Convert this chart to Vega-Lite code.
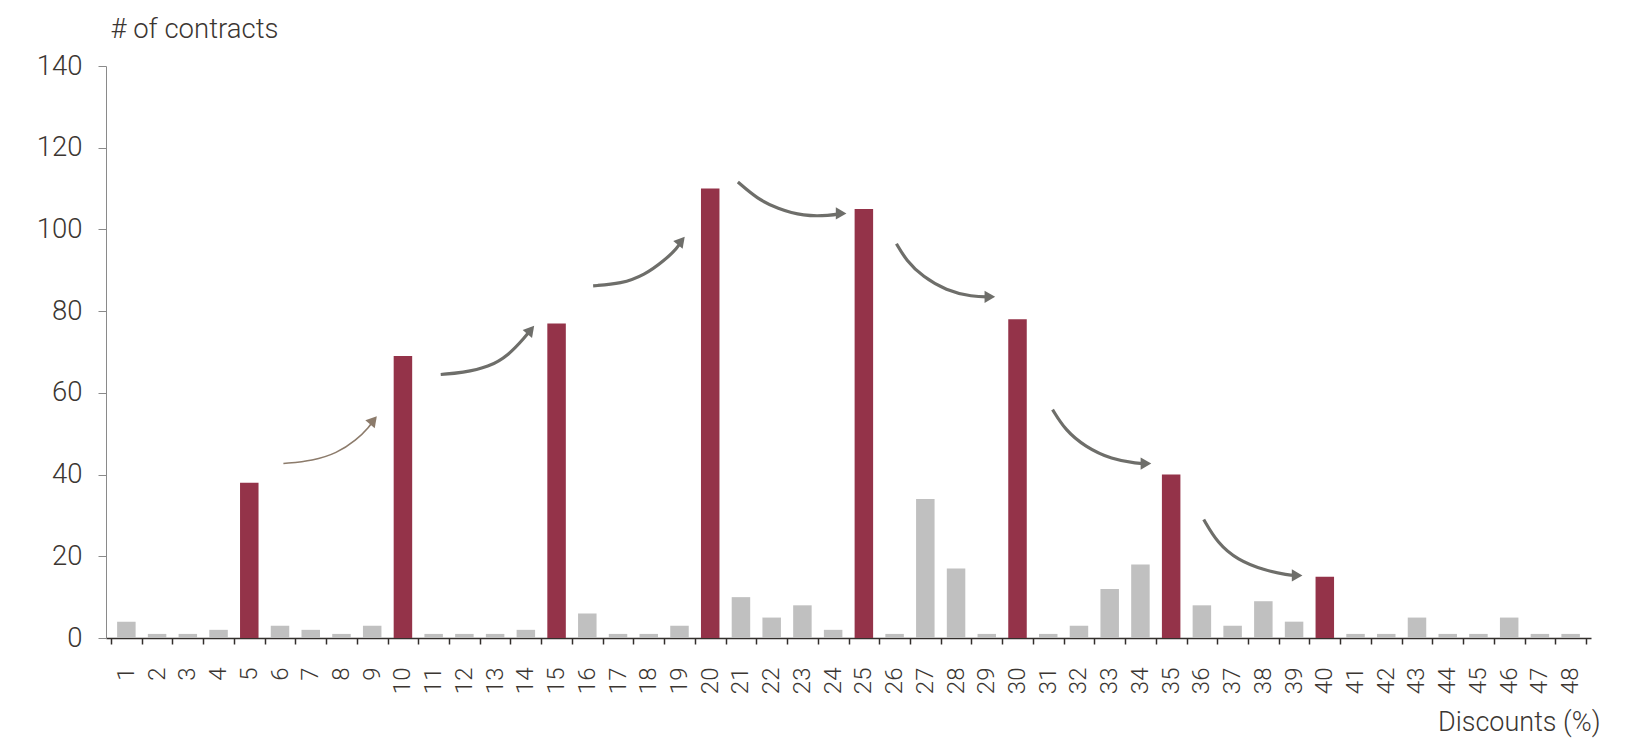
{
  "$schema": "https://vega.github.io/schema/vega-lite/v6.json",
  "autosize": "none",
  "padding": {"left": 106, "top": 66, "right": 56, "bottom": 116},
  "width": 1485,
  "height": 572,
  "background": "white",
  "config": {"font": "Roboto", "view": {"stroke": null}},
  "datasets": {
    "contracts": [
      {"discount": 1, "contracts": 4}, {"discount": 2, "contracts": 1}, {"discount": 3, "contracts": 1},
      {"discount": 4, "contracts": 2}, {"discount": 5, "contracts": 38}, {"discount": 6, "contracts": 3},
      {"discount": 7, "contracts": 2}, {"discount": 8, "contracts": 1}, {"discount": 9, "contracts": 3},
      {"discount": 10, "contracts": 69}, {"discount": 11, "contracts": 1}, {"discount": 12, "contracts": 1},
      {"discount": 13, "contracts": 1}, {"discount": 14, "contracts": 2}, {"discount": 15, "contracts": 77},
      {"discount": 16, "contracts": 6}, {"discount": 17, "contracts": 1}, {"discount": 18, "contracts": 1},
      {"discount": 19, "contracts": 3}, {"discount": 20, "contracts": 110}, {"discount": 21, "contracts": 10},
      {"discount": 22, "contracts": 5}, {"discount": 23, "contracts": 8}, {"discount": 24, "contracts": 2},
      {"discount": 25, "contracts": 105}, {"discount": 26, "contracts": 1}, {"discount": 27, "contracts": 34},
      {"discount": 28, "contracts": 17}, {"discount": 29, "contracts": 1}, {"discount": 30, "contracts": 78},
      {"discount": 31, "contracts": 1}, {"discount": 32, "contracts": 3}, {"discount": 33, "contracts": 12},
      {"discount": 34, "contracts": 18}, {"discount": 35, "contracts": 40}, {"discount": 36, "contracts": 8},
      {"discount": 37, "contracts": 3}, {"discount": 38, "contracts": 9}, {"discount": 39, "contracts": 4},
      {"discount": 40, "contracts": 15}, {"discount": 41, "contracts": 1}, {"discount": 42, "contracts": 1},
      {"discount": 43, "contracts": 5}, {"discount": 44, "contracts": 1}, {"discount": 45, "contracts": 1},
      {"discount": 46, "contracts": 5}, {"discount": 47, "contracts": 1}, {"discount": 48, "contracts": 1}
    ],
    "arrows": [
      {"arrow": 1, "step": 1, "discount": 6.11, "contracts": 42.7},
      {"arrow": 1, "step": 2, "discount": 7.08, "contracts": 43.4},
      {"arrow": 1, "step": 3, "discount": 7.84, "contracts": 45.2},
      {"arrow": 1, "step": 4, "discount": 8.48, "contracts": 48.4},
      {"arrow": 1, "step": 5, "discount": 8.92, "contracts": 51.8},
      {"arrow": 1, "step": 6, "discount": 9.04, "contracts": 53.3},
      {"arrow": 2, "step": 1, "discount": 11.23, "contracts": 64.5},
      {"arrow": 2, "step": 2, "discount": 11.93, "contracts": 64.9},
      {"arrow": 2, "step": 3, "discount": 12.8, "contracts": 66.3},
      {"arrow": 2, "step": 4, "discount": 13.44, "contracts": 69.2},
      {"arrow": 2, "step": 5, "discount": 13.98, "contracts": 73.7},
      {"arrow": 2, "step": 6, "discount": 14.16, "contracts": 75.4},
      {"arrow": 3, "step": 1, "discount": 16.19, "contracts": 86.2},
      {"arrow": 3, "step": 2, "discount": 17.11, "contracts": 86.7},
      {"arrow": 3, "step": 3, "discount": 17.86, "contracts": 88.8},
      {"arrow": 3, "step": 4, "discount": 18.51, "contracts": 92.4},
      {"arrow": 3, "step": 5, "discount": 18.94, "contracts": 95.5},
      {"arrow": 3, "step": 6, "discount": 19.06, "contracts": 97.2},
      {"arrow": 4, "step": 1, "discount": 20.9, "contracts": 111.6},
      {"arrow": 4, "step": 2, "discount": 21.53, "contracts": 107.5},
      {"arrow": 4, "step": 3, "discount": 22.18, "contracts": 105.1},
      {"arrow": 4, "step": 4, "discount": 23.04, "contracts": 103.2},
      {"arrow": 4, "step": 5, "discount": 23.9, "contracts": 103.4},
      {"arrow": 4, "step": 6, "discount": 24.26, "contracts": 103.9},
      {"arrow": 5, "step": 1, "discount": 26.06, "contracts": 96.5},
      {"arrow": 5, "step": 2, "discount": 26.38, "contracts": 92.4},
      {"arrow": 5, "step": 3, "discount": 26.92, "contracts": 88.4},
      {"arrow": 5, "step": 4, "discount": 27.67, "contracts": 85.1},
      {"arrow": 5, "step": 5, "discount": 28.53, "contracts": 83.5},
      {"arrow": 5, "step": 6, "discount": 29.1, "contracts": 83.5},
      {"arrow": 6, "step": 1, "discount": 31.14, "contracts": 55.9},
      {"arrow": 6, "step": 2, "discount": 31.55, "contracts": 50.9},
      {"arrow": 6, "step": 3, "discount": 32.2, "contracts": 46.8},
      {"arrow": 6, "step": 4, "discount": 33.06, "contracts": 43.7},
      {"arrow": 6, "step": 5, "discount": 33.92, "contracts": 42.7},
      {"arrow": 6, "step": 6, "discount": 34.18, "contracts": 42.7},
      {"arrow": 7, "step": 1, "discount": 36.06, "contracts": 29.0},
      {"arrow": 7, "step": 2, "discount": 36.51, "contracts": 23.2},
      {"arrow": 7, "step": 3, "discount": 37.16, "contracts": 19.1},
      {"arrow": 7, "step": 4, "discount": 38.02, "contracts": 16.6},
      {"arrow": 7, "step": 5, "discount": 38.8, "contracts": 15.4},
      {"arrow": 7, "step": 6, "discount": 39.1, "contracts": 15.3}
    ],
    "heads": [
      {"arrow": 1, "trend": "up", "discount": 9.04, "contracts": 53.3},
      {"arrow": 2, "trend": "up", "discount": 14.16, "contracts": 75.4},
      {"arrow": 3, "trend": "up", "discount": 19.06, "contracts": 97.2},
      {"arrow": 4, "trend": "down", "discount": 24.26, "contracts": 103.9},
      {"arrow": 5, "trend": "down", "discount": 29.1, "contracts": 83.5},
      {"arrow": 6, "trend": "down", "discount": 34.18, "contracts": 42.7},
      {"arrow": 7, "trend": "down", "discount": 39.1, "contracts": 15.3}
    ]
  },
  "layer": [
    {
      "data": {"name": "contracts"},
      "mark": {"type": "bar", "size": 18.5},
      "encoding": {
        "x": {
          "field": "discount",
          "type": "quantitative",
          "scale": {"domain": [0.5, 48.5], "nice": false, "zero": false},
          "axis": {
            "orient": "bottom",
            "values": [1, 2, 3, 4, 5, 6, 7, 8, 9, 10, 11, 12, 13, 14, 15, 16, 17, 18, 19, 20, 21, 22, 23, 24, 25, 26, 27, 28, 29, 30, 31, 32, 33, 34, 35, 36, 37, 38, 39, 40, 41, 42, 43, 44, 45, 46, 47, 48],
            "domain": false,
            "ticks": false,
            "grid": false,
            "title": null,
            "labelAngle": 270,
            "labelAlign": "right",
            "labelBaseline": "middle",
            "labelPadding": 29,
            "labelFontSize": 24,
            "labelFontWeight": 300,
            "labelColor": "#3b3632",
            "labelOverlap": false,
            "labelFlush": false
          }
        },
        "y": {
          "field": "contracts",
          "type": "quantitative",
          "scale": {"domain": [0, 140], "nice": false},
          "axis": {
            "values": [0, 20, 40, 60, 80, 100, 120, 140],
            "grid": false,
            "domainColor": "#8a8a8a",
            "tickColor": "#8a8a8a",
            "tickSize": 8,
            "labelPadding": 16,
            "labelFontSize": 27.5,
            "labelFontWeight": 300,
            "labelColor": "#3b3632",
            "title": "# of contracts",
            "titleAngle": 0,
            "titleAlign": "left",
            "titleBaseline": "alphabetic",
            "titleX": 4,
            "titleY": -29,
            "titleFontSize": 27.5,
            "titleFontWeight": 300,
            "titleColor": "#3b3632"
          }
        },
        "color": {
          "condition": {"test": "datum.discount % 5 === 0 && datum.discount <= 40", "value": "#943349"},
          "value": "#c0c0c0"
        }
      }
    },
    {
      "data": {"name": "arrows"},
      "transform": [{"filter": "datum.arrow > 1"}],
      "mark": {"type": "line", "interpolate": "basis", "stroke": "#6e6e6a", "strokeWidth": 3.2, "strokeCap": "butt"},
      "encoding": {
        "x": {
          "field": "discount",
          "type": "quantitative",
          "axis": {
            "orient": "bottom",
            "values": [0.5, 1.5, 2.5, 3.5, 4.5, 5.5, 6.5, 7.5, 8.5, 9.5, 10.5, 11.5, 12.5, 13.5, 14.5, 15.5, 16.5, 17.5, 18.5, 19.5, 20.5, 21.5, 22.5, 23.5, 24.5, 25.5, 26.5, 27.5, 28.5, 29.5, 30.5, 31.5, 32.5, 33.5, 34.5, 35.5, 36.5, 37.5, 38.5, 39.5, 40.5, 41.5, 42.5, 43.5, 44.5, 45.5, 46.5, 47.5, 48.5],
            "labels": false,
            "grid": false,
            "domainColor": "#332f2c",
            "domainWidth": 1.5,
            "tickColor": "#332f2c",
            "tickWidth": 1.5,
            "tickSize": 6,
            "title": "Discounts (%)",
            "titleAnchor": "end",
            "titleAlign": "right",
            "titleBaseline": "alphabetic",
            "titleX": 1494,
            "titleY": 92,
            "titleFontSize": 27,
            "titleFontWeight": 300,
            "titleColor": "#3b3632"
          }
        },
        "y": {"field": "contracts", "type": "quantitative"},
        "detail": {"field": "arrow", "type": "nominal"},
        "order": {"field": "step", "type": "quantitative"}
      }
    },
    {
      "data": {"name": "arrows"},
      "transform": [{"filter": "datum.arrow === 1"}],
      "mark": {"type": "line", "interpolate": "basis", "stroke": "#8c7b6b", "strokeWidth": 1.6},
      "encoding": {
        "x": {"field": "discount", "type": "quantitative", "axis": null},
        "y": {"field": "contracts", "type": "quantitative"},
        "order": {"field": "step", "type": "quantitative"}
      }
    },
    {
      "data": {"name": "heads"},
      "transform": [{"filter": "datum.trend === 'up'"}],
      "mark": {"type": "point", "shape": "triangle-right", "angle": 310, "filled": true, "size": 150, "opacity": 1},
      "encoding": {
        "x": {"field": "discount", "type": "quantitative", "axis": null},
        "y": {"field": "contracts", "type": "quantitative"},
        "color": {
          "condition": {"test": "datum.arrow === 1", "value": "#8c7b6b"},
          "value": "#6e6e6a"
        }
      }
    },
    {
      "data": {"name": "heads"},
      "transform": [{"filter": "datum.trend === 'down'"}],
      "mark": {"type": "point", "shape": "triangle-right", "angle": 0, "filled": true, "size": 150, "opacity": 1, "color": "#6e6e6a"},
      "encoding": {
        "x": {"field": "discount", "type": "quantitative", "axis": null},
        "y": {"field": "contracts", "type": "quantitative"}
      }
    }
  ],
  "resolve": {"axis": {"x": "independent"}}
}
